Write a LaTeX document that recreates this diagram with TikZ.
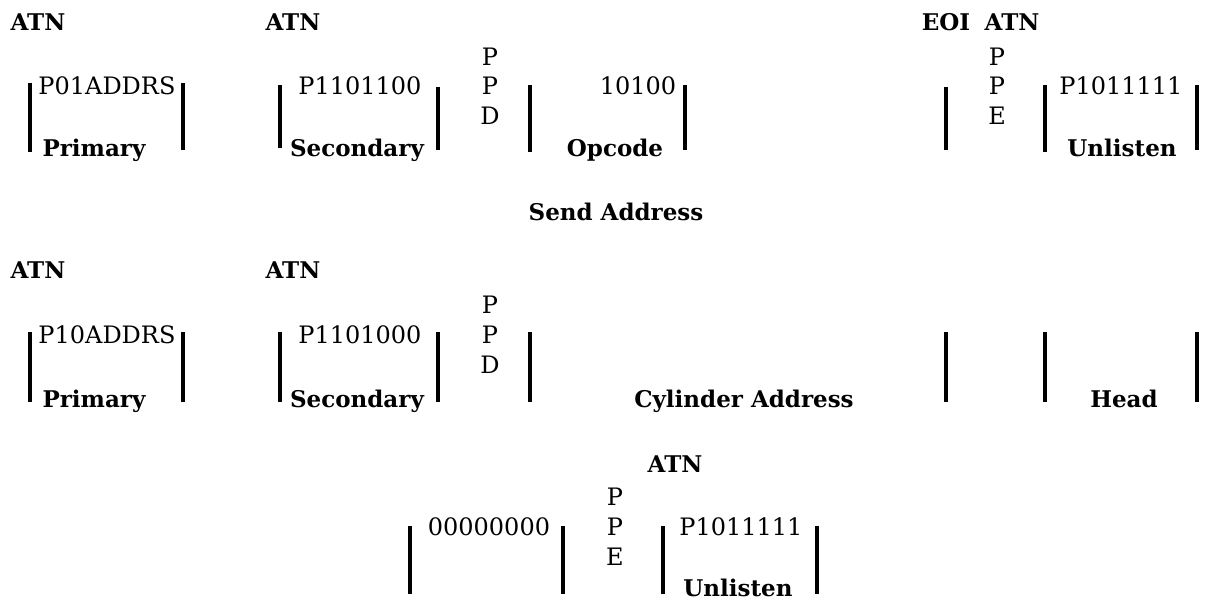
\documentclass[tikz,border=0pt]{standalone}
\usepackage{fontspec}
\setmainfont{DejaVu Serif}
\begin{document}
\begin{tikzpicture}[x=1pt,y=-1pt,
  code/.style={inner sep=0pt, font=\fontsize{24}{24}\selectfont, text height=17pt, text depth=0pt},
  lbl/.style={inner sep=0pt, font=\fontsize{23}{23}\selectfont\bfseries, text height=17pt, text depth=0pt},
  sig/.style={inner sep=0pt, font=\fontsize{23}{23}\selectfont\bfseries, text height=17pt, text depth=0pt},
  bar/.style={line width=3.2pt}]
\useasboundingbox (0,0) rectangle (1210,603);
% ---------- row 1 ----------
\node[sig] (r1atnA) at (38,22) {ATN};
\node[sig] (r1atnB) at (293,22) {ATN};
\node[sig] (r1eoi) at (946,22) {EOI};
\node[sig] (r1atnC) at (1012,22) {ATN};
\foreach \x/\a/\b in {30/83/152,183/83/150,280/85/148,438/87/150,530/85/152,685/85/150,946/87/150,1045/85/152,1197/85/150}
  \draw[bar] (\x,\a) -- (\x,\b);
\node[code] (r1c1) at (107,86) {P01ADDRS};
\node[code] (r1c2) at (360,86) {P1101100};
\node[code] (r1c3) at (638,86) {10100};
\node[code] (r1c4) at (1121,86) {P1011111};
\node[lbl] (r1n1) at (94,148) {Primary};
\node[lbl] (r1n2) at (357,148) {Secondary};
\node[lbl] (r1n3) at (615,148) {Opcode};
\node[lbl] (r1n4) at (1122,148) {Unlisten};
\node[code] (r1p1) at (490,57) {P};
\node[code] (r1p2) at (490,86) {P};
\node[code] (r1p3) at (490,116) {D};
\node[code] (r1q1) at (997,57) {P};
\node[code] (r1q2) at (997,86) {P};
\node[code] (r1q3) at (997,116) {E};
\node[lbl] (send) at (616,212) {Send Address};
% ---------- row 2 ----------
\node[sig] (r2atnA) at (38,270) {ATN};
\node[sig] (r2atnB) at (293,270) {ATN};
\foreach \x in {30,183,280,438,530,946,1045,1197}
  \draw[bar] (\x,332) -- (\x,402);
\node[code] (r2c1) at (107,335) {P10ADDRS};
\node[code] (r2c2) at (360,335) {P1101000};
\node[lbl] (r2n1) at (94,399) {Primary};
\node[lbl] (r2n2) at (357,399) {Secondary};
\node[code] (r2p1) at (490,305) {P};
\node[code] (r2p2) at (490,335) {P};
\node[code] (r2p3) at (490,365) {D};
\node[lbl] (r2n3) at (744,399) {Cylinder Address};
\node[lbl] (r2n4) at (1124,399) {Head};
% ---------- row 3 ----------
\node[sig] (r3atn) at (675,464) {ATN};
\foreach \x in {410,563,663,817}
  \draw[bar] (\x,526) -- (\x,594);
\node[code] (r3c1) at (489,527) {00000000};
\node[code] (r3p1) at (615,497) {P};
\node[code] (r3p2) at (615,527) {P};
\node[code] (r3p3) at (615,557) {E};
\node[code] (r3c2) at (741,527) {P1011111};
\node[lbl] (r3n1) at (738,588) {Unlisten};
\end{tikzpicture}
\end{document}
